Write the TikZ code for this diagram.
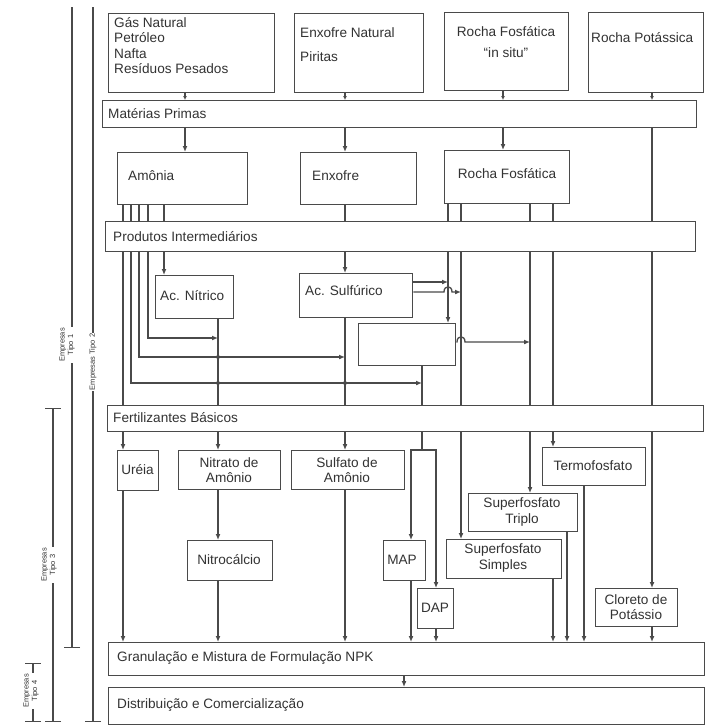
\documentclass[tikz,border=0pt]{standalone}
\usepackage{fontspec}
\setmainfont{Liberation Sans}
\usetikzlibrary{arrows.meta,calc}
\definecolor{lc}{HTML}{4A4A4A}
\definecolor{tc}{HTML}{333333}
\newcommand\fsz{\fontsize{13.6}{15.5}\selectfont}
\newcommand\lsz{\fontsize{7.5}{8.5}\selectfont}
\newcommand\mkbox[5]{\node[bx,anchor=north west,minimum width={#4-#2},minimum height={#5-#3}] (#1) at (#2,#3) {};}
\begin{document}
\begin{tikzpicture}[x=1pt,y=-1pt,
 ln/.style={draw=lc,line width=1.3pt},
 ar/.style={ln,-{Latex[length=6pt,width=5pt]}},
 sar/.style={ln,-{Latex[length=4pt,width=4pt]}},
 bx/.style={draw=lc,line width=1.4pt,rectangle,inner sep=0pt,fill=white},
 txt/.style={font=\fsz,text=tc,inner sep=0pt,align=center},
 lbl/.style={font=\lsz,text=tc,inner sep=1pt,fill=white,align=center,rotate=90},
 br/.style={draw=lc,line width=1.1pt},
 dotn/.style={circle,fill=lc,inner sep=0pt,minimum size=4pt},
]
\path[use as bounding box,fill=white] (0,0) rectangle (707,726);

% columns and rows
\foreach \c in {123,131,139,148,164,185,218,345,404,411,422,436,448,461,503,530,553,567,584,652}
  \coordinate (k\c) at (\c,0);
\foreach \r in {282,292,338,342,357,383,450}
  \coordinate (r\r) at (0,\r);

% left brackets
\coordinate (L1a) at (72,7);  \coordinate (L1b) at (72,648);
\coordinate (L2a) at (93,7);  \coordinate (L2b) at (93,722);
\coordinate (L3a) at (53,408); \coordinate (L3b) at (53,722);
\coordinate (L4a) at (33,663); \coordinate (L4b) at (33,722);
\draw[br,-{Bar[width=16pt]}] (L1a) -- (L1b);
\draw[br,-{Bar[width=16pt]}] (L2a) -- (L2b);
\draw[br,{Bar[width=16pt]}-{Bar[width=16pt]}] (L3a) -- (L3b);
\draw[br,{Bar[width=16pt]}-{Bar[width=16pt]}] (L4a) -- (L4b);
\node[lbl] (lab1) at (67,345) {Empresas\\Tipo 1};
\node[lbl] (lab2) at (93,362) {Empresas Tipo 2};
\node[lbl] (lab3) at (49,565) {Empresas\\Tipo 3};
\node[lbl] (lab4) at (31,691) {Empresas\\Tipo 4};

% boxes
\mkbox{src1}{108}{13}{274}{92}
\mkbox{src2}{294}{13}{423}{92}
\mkbox{src3}{444}{12}{568}{90}
\mkbox{src4}{588}{12}{703}{92}
\mkbox{mp}{102}{100}{696}{127}
\mkbox{amonia}{117}{152}{247}{204}
\mkbox{enxofre}{300}{152}{416}{204}
\mkbox{rocha}{444}{150}{569}{203}
\mkbox{pi}{105}{221}{695}{251}
\mkbox{nitrico}{155}{275}{233}{318}
\mkbox{sulfurico}{299}{273}{412}{317}
\mkbox{blank}{358}{323}{455}{365}
\mkbox{fb}{107}{405}{703}{431}
\mkbox{ureia}{117}{450}{158}{490}
\mkbox{nitrato}{178}{450}{280}{489}
\mkbox{sulfato}{291}{450}{404}{489}
\mkbox{termo}{542}{447}{645}{485}
\mkbox{stp}{468}{493}{577}{531}
\mkbox{nitrocal}{187}{540}{272}{580}
\mkbox{map}{383}{540}{425}{580}
\mkbox{ssp}{446}{539}{561}{578}
\mkbox{dap}{417}{588}{453}{628}
\mkbox{kcl}{595}{588}{677}{626}
\mkbox{gran}{108}{642}{704}{675}
\mkbox{dist}{108}{687}{704}{724}

% texts
\node[txt,anchor=north west,align=left] (t-src1) at (114,17) {Gás Natural\\Petróleo\\Nafta\\Resíduos Pesados};
\node[txt,anchor=west] (t-src2a) at (300,33) {Enxofre Natural};
\node[txt,anchor=west] (t-src2b) at (300,57) {Piritas};
\node[txt] (t-src3a) at (506,32) {Rocha Fosfática};
\node[txt] (t-src3b) at (506,53) {“in situ”};
\node[txt,anchor=west] (t-src4) at (591,38) {Rocha Potássica};
\node[txt,anchor=west] (t-mp) at (108,114) {Matérias Primas};
\node[txt,anchor=west] (t-amonia) at (128,176) {Amônia};
\node[txt,anchor=west] (t-enxofre) at (312,176) {Enxofre};
\node[txt] (t-rocha) at (507,174) {Rocha Fosfática};
\node[txt,anchor=west] (t-pi) at (113,237) {Produtos Intermediários};
\node[txt,anchor=west] (t-nitrico) at (160,296) {Ac. Nítrico};
\node[txt,anchor=west] (t-sulfurico) at (305,291) {Ac. Sulfúrico};
\node[txt,anchor=west] (t-fb) at (113,418) {Fertilizantes Básicos};
\node[txt] (t-ureia) at (137.5,470) {Uréia};
\node[txt] (t-nitrato) at (229,470) {Nitrato de\\Amônio};
\node[txt] (t-sulfato) at (347,470) {Sulfato de\\Amônio};
\node[txt] (t-termo) at (593,466) {Termofosfato};
\node[txt] (t-stp) at (522,512) {Superfosfato\\Triplo};
\node[txt] (t-nitrocal) at (229,560) {Nitrocálcio};
\node[txt] (t-map) at (402,560) {MAP};
\node[txt] (t-ssp) at (503,558) {Superfosfato\\Simples};
\node[txt] (t-dap) at (435,608) {DAP};
\node[txt] (t-kcl) at (636,607) {Cloreto de\\Potássio};
\node[txt,anchor=west] (t-gran) at (117,658) {Granulação e Mistura de Formulação NPK};
\node[txt,anchor=west] (t-dist) at (117,705) {Distribuição e Comercialização};

% sources -> materias primas
\draw[sar] (src1.south -| k185) -- (mp.north -| k185);
\draw[sar] (src2.south -| k345) -- (mp.north -| k345);
\draw[sar] (src3.south -| k503) -- (mp.north -| k503);
\draw[sar] (src4.south -| k652) -- (mp.north -| k652);

% materias primas -> row 2
\draw[ar] (mp.south -| k185) -- (amonia.north -| k185);
\draw[ar] (mp.south -| k345) -- (enxofre.north -| k345);
\draw[ar] (mp.south -| k503) -- (rocha.north -| k503);
\draw[ln] (mp.south -| k652) -- (pi.north -| k652);

% row 2 -> produtos intermediarios
\foreach \c in {123,131,139,148,164} \draw[ln] (amonia.south -| k\c) -- (pi.north -| k\c);
\draw[ln] (enxofre.south -| k345) -- (pi.north -| k345);
\foreach \c in {448,461,530,553} \draw[ln] (rocha.south -| k\c) -- (pi.north -| k\c);

% below produtos intermediarios
\draw[ar] (pi.south -| k164) -- (nitrico.north -| k164);
\draw[ar] (pi.south -| k148) |- (k218 |- r338);
\draw[ar] (pi.south -| k139) |- (k345 |- r357);
\draw[ar] (pi.south -| k131) |- (k422 |- r383);
\draw[ln] (pi.south -| k123) -- (fb.north -| k123);
\draw[ar] (pi.south -| k345) -- (sulfurico.north -| k345);
\draw[ln] (nitrico.south -| k218) -- (fb.north -| k218);
\draw[ln] (sulfurico.south -| k345) -- (fb.north -| k345);
\draw[ar] (sulfurico.east |- r282) -- (k448 |- r282);
\draw[ar] (sulfurico.east |- r292) -- ($(k448 |- r292)+(-4,0)$) .. controls +(0,-7) and +(0,-7) .. ++(8,0) -- (k461 |- r292);
\draw[ar] (pi.south -| k448) -- (blank.north -| k448);
\draw[ar] (blank.east |- r342) -- ($(k461 |- r342)+(-4,0)$) .. controls +(0,-7) and +(0,-7) .. ++(8,0) -- (k530 |- r342);
\draw[ln] (blank.south -| k422) -- (fb.north -| k422);
\foreach \c in {461,530,553,652} \draw[ln] (pi.south -| k\c) -- (fb.north -| k\c);
\node[dotn] (d1) at (k218 |- r357) {};
\node[dotn] (d2) at (k218 |- r383) {};
\node[dotn] (d3) at (k345 |- r383) {};

% below fertilizantes basicos
\draw[ar] (fb.south -| k123) -- (ureia.north -| k123);
\draw[ar] (fb.south -| k218) -- (nitrato.north -| k218);
\draw[ar] (fb.south -| k345) -- (sulfato.north -| k345);
\draw[ln] (fb.south -| k422) -- (k422 |- r450);
\draw[ar] (k422 |- r450) -| (map.north -| k411);
\draw[ar] (k422 |- r450) -| (dap.north -| k436);
\draw[ar] (fb.south -| k461) -- (ssp.north -| k461);
\draw[ar] (fb.south -| k530) -- (stp.north -| k530);
\draw[ar] (fb.south -| k553) -- (termo.north -| k553);
\draw[ar] (fb.south -| k652) -- (kcl.north -| k652);

% to granulacao
\draw[ar] (ureia.south -| k123) -- (gran.north -| k123);
\draw[ar] (nitrato.south -| k218) -- (nitrocal.north -| k218);
\draw[ar] (nitrocal.south -| k218) -- (gran.north -| k218);
\draw[ar] (sulfato.south -| k345) -- (gran.north -| k345);
\draw[ar] (map.south -| k411) -- (gran.north -| k411);
\draw[ar] (dap.south -| k436) -- (gran.north -| k436);
\draw[ar] (ssp.south -| k553) -- (gran.north -| k553);
\draw[ar] (stp.south -| k567) -- (gran.north -| k567);
\draw[ar] (termo.south -| k584) -- (gran.north -| k584);
\draw[ar] (kcl.south -| k652) -- (gran.north -| k652);
\draw[ar] (gran.south -| k404) -- (dist.north -| k404);
\end{tikzpicture}
\end{document}
